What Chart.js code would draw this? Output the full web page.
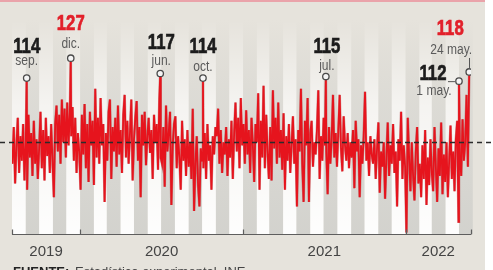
<!DOCTYPE html>
<html>
<head>
<meta charset="utf-8">
<script src="https://cdn.jsdelivr.net/npm/chart.js@4.4.1/dist/chart.umd.min.js"></script>
<style>
    html, body { margin: 0; padding: 0; background: #ffffff; }
    #wrap { width: 493px; height: 270px; }
</style>
</head>
<body>
<div id="wrap"><canvas id="dailyChart" width="493" height="270"></canvas></div>
<script>
// Serie diaria, una muestra cada 3 días desde el 2 ago. 2019 (día 1)
const sampleStep = 3
const values2019 = [
    58, 82, 45, 70, 88, 52, 76, 60, 84, 47,
    72, 41, 90, 62, 78, 50, 86, 58, 74, 48,
    68, 92, 55, 80, 47, 88, 63, 76, 52, 84, 60,
    36, 84, 96, 66, 90, 58, 100, 72, 94, 62,
    98, 70, 92, 76, 95, 60, 88, 52, 78, 66,
]
const values2020 = [
    41, 90, 64, 97, 55, 84, 46, 92, 70, 86,
    44, 107, 62, 88, 58, 101, 70, 84, 33, 78,
    60, 92, 100, 48, 82, 66, 88, 56, 96, 64,
    80, 52, 90, 103, 62, 86, 58, 78, 100, 47,
    74, 88, 99, 60, 82, 36, 90, 70, 92, 57, 76,
    88, 65, 80, 48, 90, 72, 84, 54, 100, 62,
    58, 82, 43, 96, 66, 78, 92, 31, 70, 84,
    89, 55, 76, 62, 41, 86, 60, 74, 50, 80,
    56, 72, 48, 94, 27, 58, 76, 44, 30, 68,
    60, 55, 78, 48, 84, 60, 70, 41, 76, 64, 82,
    76, 94, 58, 80, 52, 72, 64, 82, 50, 74,
    62, 86, 48, 78, 98, 66, 88, 55, 101, 70,
]
const values2021 = [
    84, 58, 93, 64, 80, 52, 88, 70, 46, 84,
    72, 104, 41, 86, 62, 109, 55, 90, 66, 48,
    82, 47, 106, 68, 88, 58, 98, 62, 80, 54,
    91, 41, 76, 60, 84, 52, 70, 89, 58, 74,
    30, 80, 66, 107, 58, 33, 86, 70, 101, 33,
    78, 86, 56, 72, 64, 80, 106, 48, 76, 60,
    88, 70, 66, 38, 82, 58, 74, 103, 62, 78, 56,
    80, 103, 68, 53, 89, 70, 60, 78, 55, 72,
    62, 80, 42, 86, 66, 74, 36, 70, 58, 76,
    105, 60, 72, 50, 76, 64, 58, 74, 48, 68,
    85, 39, 66, 56, 72, 35, 62, 85, 50, 70,
    58, 84, 52, 66, 30, 74, 60, 92, 48, 70, 56,
]
const values2022 = [
    13, 88, 62, 40, 72, 50, 34, 66, 82, 45,
    58, 36, 70, 48, 80, 31, 62, 44, 74,
    52, 40, 82, 56, 33, 68, 50, 85, 38, 64, 46,
    72, 36, 60, 83, 48, 66, 40, 74, 86, 20,
    64, 50, 87, 60, 72, 103, 56,
]

// Máximos señalados (día contado desde el 1 ago. 2019)
const peakDays = [33, 132, 333, 429, 705, 1004, 1027]
const peakValues = [114, 127, 117, 114, 115, 112, 118]
const peakDates = ['sep.', 'dic.', 'jun.', 'oct.', 'jul.', '1 may.', '24 may.']
const peakRecord = [false, true, false, false, false, false, true]

const averageValue = 72
const yearLabels = ['2019', '2020', '2021', '2022']
const yearStartDays = [0, 153, 519, 884]
const lastDay = 1031

const samples = [...values2019, ...values2020, ...values2021, ...values2022]
const linePoints = samples
    .map((v, i) => ({ x: 1 + i * sampleStep, y: v }))
    .concat(peakDays.map((d, i) => ({ x: d, y: peakValues[i] })))
    .sort((a, b) => a.x - b.x)

// Límites de mes para las franjas de fondo
const monthDays = []
for (let m = 0; m <= 34; m++) {
    const t = Date.UTC(2019, 7 + m, 1)
    monthDays.push((t - Date.UTC(2019, 7, 1)) / 86400000)
}

const regular = '"Liberation Sans", Arial, sans-serif'

// label offsets relative to each circle: number, date, leader line
const peakLayout = [
    { n: [0, -25], d: [0, -13] },
    { n: [0, -28], d: [0, -10] },
    { n: [1, -25], d: [1, -9] },
    { n: [0, -25], d: [0, -7] },
    { n: [1, -24], d: [1, -7] },
    { n: [-26, -1], d: [-25, 14], lead: 'h' },
    { n: [-19, -37], d: [-18, -18], lead: 'v' },
]

// texto estrechado a mano (no hay fuente condensada instalada)
function narrowText(ctx, text, x, y, sx, heavy) {
    ctx.save()
    ctx.translate(x, y)
    ctx.scale(sx, 1)
    ctx.fillText(text, 0, 0)
    if (heavy) {
        ctx.strokeStyle = ctx.fillStyle
        ctx.lineWidth = 0.7
        ctx.strokeText(text, 0, 0)
    }
    ctx.restore()
}

const framePlugin = {
    id: 'framePlugin',
    beforeDraw(chart) {
        const { ctx, chartArea: a } = chart
        const x = chart.scales.x
        ctx.save()
        ctx.fillStyle = '#ffffff'
        ctx.fillRect(0, 0, chart.width, chart.height)
        ctx.fillStyle = '#e6e3dc'
        ctx.fillRect(0, 0, 485, chart.height)
        ctx.fillStyle = '#eaa3aa'
        ctx.fillRect(0, 0, 485, 2)

        const whiteG = ctx.createLinearGradient(0, a.top, 0, a.bottom)
        whiteG.addColorStop(0, 'rgba(255,255,255,0)')
        whiteG.addColorStop(0.4, 'rgba(255,255,255,0.6)')
        whiteG.addColorStop(1, 'rgba(255,255,255,0.95)')
        const greyG = ctx.createLinearGradient(0, a.top, 0, a.bottom)
        greyG.addColorStop(0, 'rgba(205,205,200,0)')
        greyG.addColorStop(0.4, 'rgba(210,210,206,0.5)')
        greyG.addColorStop(1, 'rgba(206,206,202,0.8)')
        for (let i = 0; i < monthDays.length - 1; i++) {
            const x0 = x.getPixelForValue(monthDays[i])
            const x1 = x.getPixelForValue(monthDays[i + 1])
            ctx.fillStyle = i % 2 ? greyG : whiteG
            ctx.fillRect(x0, a.top, x1 - x0, a.bottom - a.top)
        }

        ctx.fillStyle = '#222'
        ctx.font = 'bold 13px ' + regular
        ctx.textBaseline = 'alphabetic'
        ctx.fillText('FUENTE:', 13, 276)
        ctx.fillStyle = '#444'
        ctx.font = '13px ' + regular
        ctx.fillText('Estadística experimental. INE', 75, 276)
        ctx.restore()
    },
    afterDatasetsDraw(chart) {
        const { ctx, chartArea: a } = chart
        const x = chart.scales.x
        const y = chart.scales.y
        ctx.save()

        // media
        const ym = Math.round(y.getPixelForValue(averageValue)) + 0.5
        ctx.strokeStyle = '#2b2b2b'
        ctx.lineWidth = 1.3
        ctx.setLineDash([5, 4])
        ctx.beginPath()
        ctx.moveTo(0, ym)
        ctx.lineTo(491, ym)
        ctx.stroke()
        ctx.setLineDash([])

        // eje
        const yb = Math.round(a.bottom) + 0.5
        ctx.strokeStyle = '#5e5e5e'
        ctx.lineWidth = 1.2
        ctx.beginPath()
        ctx.moveTo(a.left, yb)
        ctx.lineTo(a.right, yb)
        yearStartDays.concat([lastDay]).forEach((d) => {
            const px = Math.round(x.getPixelForValue(d)) + 0.5
            ctx.moveTo(px, yb)
            ctx.lineTo(px, yb - 5)
        })
        ctx.stroke()

        ctx.fillStyle = '#444'
        ctx.font = '15px ' + regular
        ctx.textAlign = 'center'
        yearLabels.forEach((label, i) => {
            const d0 = yearStartDays[i]
            const d1 = i + 1 < yearStartDays.length ? yearStartDays[i + 1] : lastDay
            ctx.fillText(label, x.getPixelForValue((d0 + d1) / 2), 256)
        })

        // etiquetas de máximos
        peakDays.forEach((d, i) => {
            const cx = x.getPixelForValue(d)
            const cy = y.getPixelForValue(peakValues[i])
            const lay = peakLayout[i]
            ctx.fillStyle = peakRecord[i] ? '#e2202a' : '#1c1c1c'
            ctx.font = 'bold 22px ' + regular
            narrowText(ctx, String(peakValues[i]), cx + lay.n[0], cy + lay.n[1], 0.76, true)
            ctx.fillStyle = '#5a5a5a'
            ctx.font = '14px ' + regular
            narrowText(ctx, peakDates[i], cx + lay.d[0], cy + lay.d[1], 0.86, false)
            ctx.strokeStyle = '#555'
            ctx.lineWidth = 1
            if (lay.lead === 'h') {
                ctx.beginPath()
                ctx.moveTo(cx - 11, cy + 0.5)
                ctx.lineTo(cx - 4, cy + 0.5)
                ctx.stroke()
            } else if (lay.lead === 'v') {
                ctx.beginPath()
                ctx.moveTo(Math.round(cx) + 0.5, cy - 14)
                ctx.lineTo(Math.round(cx) + 0.5, cy - 4)
                ctx.stroke()
            }
        })
        ctx.restore()
    },
}

const ctx = document.getElementById('dailyChart').getContext('2d')
const dailyChart = new Chart(ctx, {
    type: 'line',
    data: {
        datasets: [
            {
                label: 'máximos',
                data: peakDays.map((d, i) => ({ x: d, y: peakValues[i] })),
                showLine: false,
                pointRadius: 3.2,
                pointBorderWidth: 1.3,
                pointBorderColor: '#4a4a4a',
                pointBackgroundColor: '#f4f4f4',
                order: 1,
            },
            {
                label: 'serie',
                data: linePoints,
                borderColor: '#e6141d',
                borderWidth: 1.8,
                pointRadius: 0,
                tension: 0,
                fill: false,
                order: 2,
            },
            {
                label: 'sombra',
                data: linePoints,
                borderColor: 'rgba(165,30,36,0.45)',
                borderWidth: 2.6,
                pointRadius: 0,
                tension: 0,
                fill: false,
                order: 3,
            },
        ],
    },
    options: {
        responsive: false,
        animation: false,
        devicePixelRatio: 1,
        layout: { padding: { left: 12, right: 22, top: 20, bottom: 36 } },
        plugins: { legend: { display: false }, tooltip: { enabled: false } },
        scales: {
            x: { type: 'linear', min: 0, max: lastDay, display: false },
            y: { min: 12, max: 152, display: false },
        },
    },
    plugins: [framePlugin],
})
</script>
</body>
</html>
